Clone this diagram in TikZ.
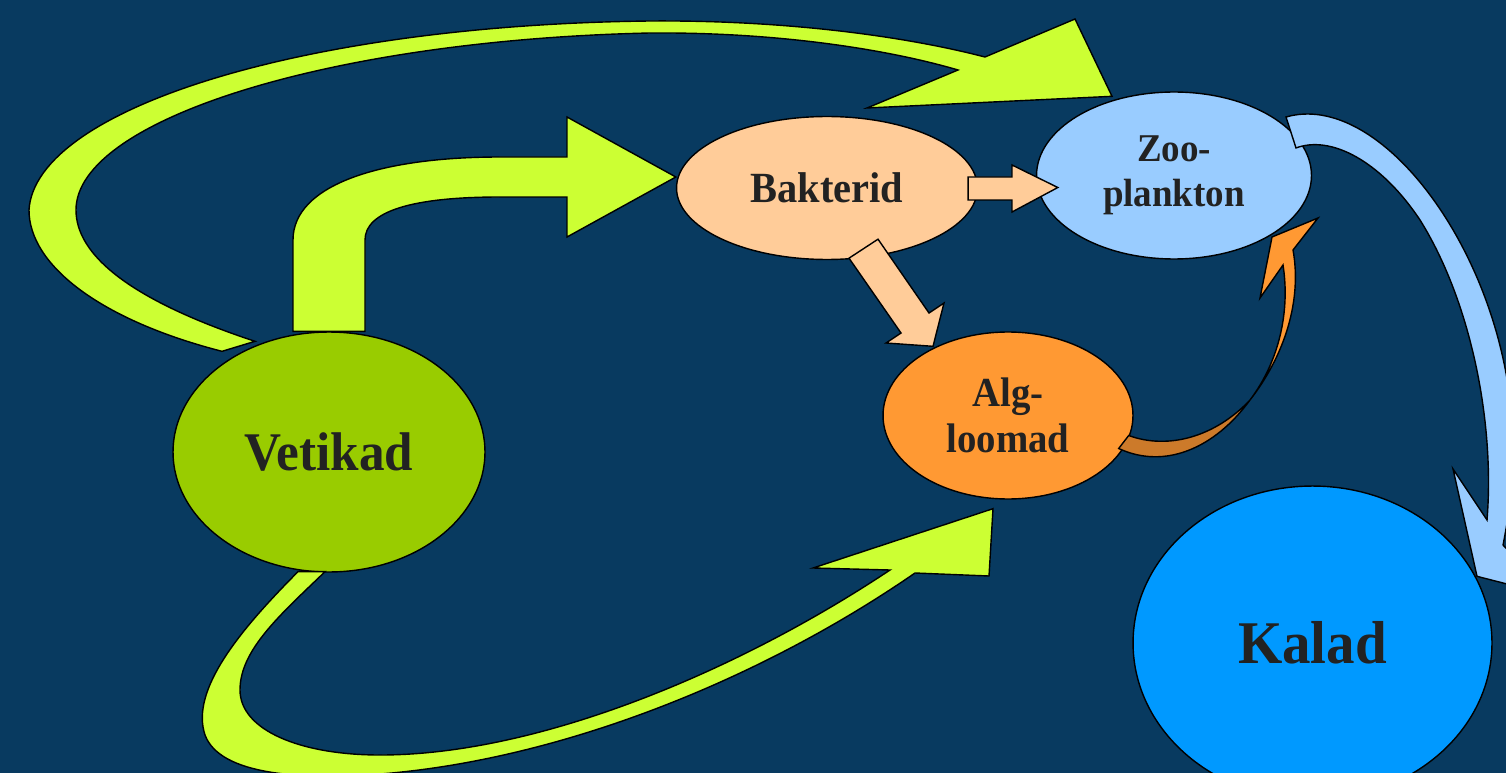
\documentclass[tikz,border=0pt]{standalone}
\usepackage{fontspec}
\newfontfamily\labelfont{Liberation Serif}[FakeStretch=0.94]
\usetikzlibrary{shapes.geometric,calc}
\definecolor{bgnavy}{HTML}{083A60}
\definecolor{limearrow}{HTML}{CCFF33}
\definecolor{vetgreen}{HTML}{99CC00}
\definecolor{bakpeach}{HTML}{FFCC99}
\definecolor{zooblue}{HTML}{99CCFF}
\definecolor{algorange}{HTML}{FF9933}
\definecolor{algdark}{HTML}{CC7A2A}
\definecolor{kalblue}{HTML}{0099FF}
\definecolor{labelgray}{HTML}{222222}
\tikzset{
      bubble/.style={
        ellipse,
        draw=black,
        line width=0.8pt,
        inner sep=0pt,
        align=center,
        text=labelgray
      },
      fatarrow/.style={
        draw=black,
        line width=0.8pt,
        line join=miter
      }
    }

\begin{document}
\begin{tikzpicture}[x=0.02cm,y=-0.02cm]
    \useasboundingbox (0,0) rectangle (1506,773);
    \clip (0,0) rectangle (1506,773);
    \fill[bgnavy] (0,0) rectangle (1506,773);
    \node[bubble, fill=vetgreen, minimum width=6.24cm, minimum height=4.8cm, font=\labelfont\bfseries\fontsize{31}{34}\selectfont] (vet) at (329,452) {Vetikad};
    \node[bubble, fill=bakpeach, minimum width=6.02cm, minimum height=2.86cm, font=\labelfont\bfseries\fontsize{24.5}{27}\selectfont] (bak) at (827,188) {Bakterid};
    \node[bubble, fill=zooblue, minimum width=5.5cm, minimum height=3.34cm, font=\labelfont\bfseries\fontsize{22.4}{25.5}\selectfont] (zoo) at (1174,175.5) {Zoo-\\plankton};
    \node[bubble, fill=algorange, minimum width=5.0cm, minimum height=3.34cm, font=\labelfont\bfseries\fontsize{23.5}{26.5}\selectfont] (alg) at (1008,415.5) {Alg-\\loomad};
    \node[bubble, fill=kalblue, minimum width=7.18cm, minimum height=6.28cm, font=\labelfont\bfseries\fontsize{34.5}{38}\selectfont] (kal) at (1312.5,643) {Kalad};
    \draw[fatarrow, fill=limearrow] ($(vet.north)+(-36,0)$) -- (293,240) .. controls (293,185) and (380,157) .. (500,157) -- (567,157) -- (567,117) -- ($(bak.west)+(0,-11)$) -- (567,237) -- (567,197) -- (500,197) .. controls (410,197) and (365,212) .. (365,240) -- ($(vet.north)+(36,0)$) -- cycle;
    \draw[fatarrow, fill=limearrow] ($(vet.north)+(-74,10)$) .. controls (130,300) and (76,255) .. (76,210) .. controls (76,120) and (330,40) .. (650,33) .. controls (780,32) and (890,50) .. (958,70) -- (867,108) -- ($(zoo.north)+(-62,5)$) -- (1075,19) -- (985,57) .. controls (900,35) and (780,20) .. (650,21) .. controls (300,25) and (35,110) .. (29,210) .. controls (29,265) and (100,320) .. ($(vet.north)+(-107,20)$) -- cycle;
    \draw[fatarrow, fill=limearrow] ($(vet.south)+(-31,-1)$) .. controls (240,630) and (190,690) .. (205,735) .. controls (220,775) and (300,780) .. (380,774) .. controls (560,760) and (760,680) .. (915,573) -- (989,576) -- ($(alg.south)+(-15,9)$) -- (813,568) -- (890,570) .. controls (740,670) and (540,755) .. (380,755) .. controls (300,755) and (240,730) .. (240,690) .. controls (240,650) and (280,615) .. ($(vet.south)+(-4,-1)$) -- cycle;
    \draw[fatarrow, fill=bakpeach] ($(bak.east)+(-10,-11)$) -- (1012,177) -- (1012,165) -- ($(zoo.west)+(22,12)$) -- (1012,212) -- (1012,200) -- ($(bak.east)+(-10,12)$) -- cycle;
    \draw[fatarrow, fill=bakpeach] ($(bak.south)+(22,-2)$) -- (901,333) -- (886,343) -- ($(alg.north)+(-75,15)$) -- (944,303) -- (929,313) -- ($(bak.south)+(51,-21)$) -- cycle;
    \draw[fatarrow, fill=algdark] ($(alg.east)+(-15,33)$) .. controls (1165,470) and (1215,448) .. (1250,400) .. controls (1215,437) and (1168,450) .. ($(alg.east)+(-5,20)$) -- cycle;
    \draw[fatarrow, fill=algorange] (1250,400) .. controls (1285,355) and (1302,300) .. (1293,250) -- (1318,218) -- (1272,237) -- (1260,298) -- (1283,265) .. controls (1290,310) and (1280,360) .. (1250,400) -- cycle;
    \draw[fatarrow, fill=zooblue] (1286,117) .. controls (1380,90) and (1500,250) .. (1512,420) .. controls (1515,470) and (1510,510) .. (1503,545) -- (1550,595) -- ($(kal.north)+(164.5,91)$) -- (1453,469) -- (1487,520) .. controls (1495,420) and (1470,300) .. (1420,220) .. controls (1380,160) and (1330,135) .. (1296,148) -- cycle;
\end{tikzpicture}
\end{document}
